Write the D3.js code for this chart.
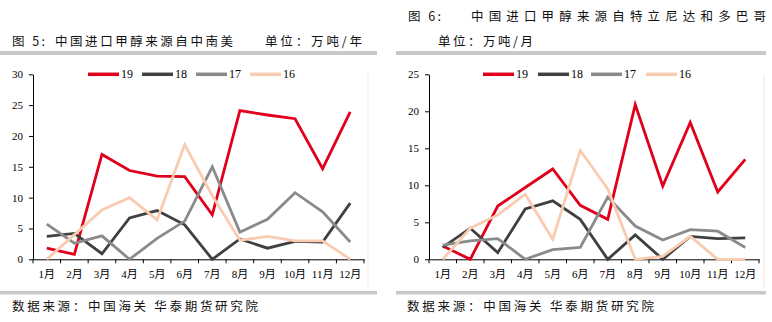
<!DOCTYPE html>
<html><head><meta charset="utf-8">
<script src="https://cdn.jsdelivr.net/npm/d3@7"></script>
<style>
html,body{margin:0;padding:0;background:#fff;}
svg{display:block;}
</style></head>
<body>
<svg id="c" width="772" height="322"></svg>
<script>
const months = ["1月","2月","3月","4月","5月","6月","7月","8月","9月","10月","11月","12月"];
const seriesNames = ["19","18","17","16"];
const seriesColors = ["#e0001b","#404040","#8a8a8a","#f9cbb0"];

// 图5 中南美 (万吨)
const sa19 = [1.8,0.8,17.0,14.4,13.5,13.4,7.2,24.1,23.4,22.8,14.7,23.9];
const sa18 = [3.7,4.2,0.9,6.7,7.9,5.6,0,3.3,1.8,2.9,2.8,9.1];
const sa17 = [5.7,2.6,3.8,0,3.4,6.2,15.0,4.4,6.5,10.8,7.7,2.8];
const sa16 = [0,4.0,8.0,10.0,6.4,18.6,10.3,3.1,3.7,3.0,3.0,0];
const saTicks = [0,5,10,15,20,25,30];

// 图6 特立尼达和多巴哥 (万吨)
const tt19 = [1.8,0,7.2,9.7,12.2,7.3,5.4,20.9,9.9,18.5,9.1,13.5];
const tt18 = [1.6,4.2,0.9,6.8,7.9,5.4,0,3.3,0,3.1,2.8,2.9];
const tt17 = [1.9,2.5,2.8,0,1.3,1.6,8.4,4.5,2.6,4.0,3.8,1.6];
const tt16 = [0,4.2,6.0,8.8,2.7,14.7,9.5,0,0.4,3.1,0,0];
const ttTicks = [0,5,10,15,20,25];

const svg = d3.select("#c");
const CJK = "'Noto Sans CJK SC', sans-serif";
const SERIF = "'Liberation Serif', 'Noto Sans CJK SC', serif";

function drawChart(o){
  const g = svg.append("g");
  const x = d3.scaleBand().domain(months).range([o.x0, o.x1]).padding(0);
  const y = d3.scaleLinear().domain([0, d3.max(o.ticks)]).range([o.yb, o.yt]);

  // faint right border line
  g.append("line").attr("x1", o.fx).attr("x2", o.fx).attr("y1", o.yt).attr("y2", 287)
    .attr("stroke", "#fce3d6").attr("stroke-width", 1);

  // y axis
  const ya = g.append("g").attr("transform", `translate(${o.x0},0)`)
    .call(d3.axisLeft(y).tickValues(o.ticks).tickSize(4).tickSizeOuter(0).tickPadding(6));
  ya.select(".domain").attr("stroke", "#000");
  ya.selectAll(".tick line").attr("stroke", "#000");
  ya.selectAll("text").attr("font-family", SERIF).attr("font-size", 11).attr("fill", "#000");

  // x axis
  const xa = g.append("g").attr("transform", `translate(0,${o.yb})`)
    .call(d3.axisBottom(x).tickSize(0).tickSizeOuter(0).tickPadding(11));
  xa.select(".domain").attr("stroke", "#000");
  xa.selectAll("text").attr("font-family", SERIF).attr("font-size", 11).attr("fill", "#000");
  const bounds = months.map(m => x(m)).concat([x(months[months.length-1]) + x.bandwidth()]);
  xa.selectAll(".bt").data(bounds).enter().append("line")
    .attr("x1", d => d).attr("x2", d => d).attr("y1", 0).attr("y2", 4).attr("stroke", "#000");

  // lines
  const line = d3.line().x((d,i) => x(months[i]) + x.bandwidth()/2).y(d => y(d));
  o.series.forEach((s, k) => {
    g.append("path").datum(s).attr("d", line).attr("fill", "none")
      .attr("stroke", seriesColors[k]).attr("stroke-width", 2.8).attr("stroke-linejoin", "miter");
  });

  // legend
  seriesNames.forEach((n, k) => {
    const lx = o.legX[k];
    g.append("line").attr("x1", lx).attr("x2", lx + 31).attr("y1", o.yt).attr("y2", o.yt)
      .attr("stroke", seriesColors[k]).attr("stroke-width", 3.5);
    g.append("text").attr("x", lx + 33).attr("y", o.yt + 4).text(n)
      .attr("font-family", SERIF).attr("font-size", 12).attr("fill", "#000");
  });
}

drawChart({x0:33, x1:364, yb:259.3, yt:74.3, fx:368, ticks:saTicks,
  series:[sa19, sa18, sa17, sa16], legX:[88, 142, 196, 250]});
drawChart({x0:429, x1:759, yb:259.3, yt:74.3, fx:764, ticks:ttTicks,
  series:[tt19, tt18, tt17, tt16], legX:[483, 538, 591, 646]});

// header & footer bars
[[0,377],[396,766]].forEach(([a,b]) => {
  svg.append("rect").attr("x", a).attr("y", 51).attr("width", b-a).attr("height", 4).attr("fill", "#c8c8c8");
  svg.append("rect").attr("x", a).attr("y", 291).attr("width", b-a).attr("height", 3.5).attr("fill", "#c8c8c8");
});

function txt(s, x, yb, len, size){
  const t = svg.append("text").attr("x", x).attr("y", yb).text(s)
    .attr("font-family", CJK).attr("font-size", size || 12.5).attr("fill", "#111");
  if (len) t.attr("textLength", len).attr("lengthAdjust", "spacing");
  return t;
}
txt("图 5:", 12, 46, 33);
txt("中国进口甲醇来源自中南美", 55, 46, 178);
txt("单位：万吨/年", 265, 46, 97);
txt("图 6:", 408, 21, 33);
txt("中国进口甲醇来源自特立尼达和多巴哥", 471, 21, 295);
txt("单位：万吨/月", 438, 46, 95);
txt("数据来源：中国海关 华泰期货研究院", 12, 311, 246);
txt("数据来源：中国海关 华泰期货研究院", 407, 311, 247);
</script>
</body></html>
